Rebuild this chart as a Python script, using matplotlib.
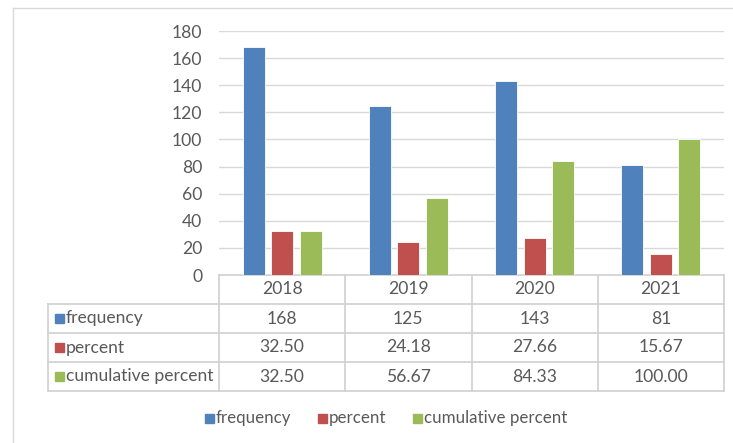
import numpy as np
import matplotlib
matplotlib.use("Agg")
import matplotlib.pyplot as plt
from matplotlib.patches import Rectangle

years = ["2018", "2019", "2020", "2021"]
series_names = ["frequency", "percent", "cumulative percent"]
frequency = [168, 125, 143, 81]
percent = [32.50, 24.18, 27.66, 15.67]
cumulative = [32.50, 56.67, 84.33, 100.00]
yticks = [0, 20, 40, 60, 80, 100, 120, 140, 160, 180]

colors = ["#4F81BD", "#C0504D", "#9BBB59"]
grid_c = "#D9D9D9"
txt_c = "#595959"
plt.rcParams["font.family"] = ["Lato", "DejaVu Sans"]
fs = 12.6

W, H = 733, 443
fig = plt.figure(figsize=(W / 100, H / 100), dpi=100)

# pixel-space helper axes for frame, table and legend
lay = fig.add_axes([0, 0, 1, 1])
lay.set_xlim(0, W)
lay.set_ylim(H, 0)
lay.axis("off")

# outer chart frame
lay.plot([13, 13], [8, H], color=grid_c, lw=1)
lay.plot([13, W], [8, 8], color=grid_c, lw=1)

# plot area
x0, x1, ytop, ybot = 219, 724, 31, 275
ax = fig.add_axes([x0 / W, 1 - ybot / H, (x1 - x0) / W, (ybot - ytop) / H])
x = np.arange(len(years))
off = 0.226
bw = 0.174
for i, vals in enumerate([frequency, percent, cumulative]):
    ax.bar(x + (i - 1) * off, vals, bw, color=colors[i], edgecolor="white",
           linewidth=0.6, zorder=3)
ax.set_xlim(-0.5, len(years) - 0.5)
ax.set_ylim(0, 180)
ax.set_yticks(yticks)
ax.set_xticks([])
ax.yaxis.grid(True, color=grid_c, lw=1)
ax.set_axisbelow(True)
for s in ax.spines.values():
    s.set_visible(False)
ax.tick_params(axis="y", length=0, pad=12, labelsize=fs, labelcolor=txt_c)
ax.patch.set_alpha(0)

# data table
tl = 48
row_h = 29
col_w = (x1 - x0) / len(years)
rows = [frequency, [f"{v:.2f}" for v in percent], [f"{v:.2f}" for v in cumulative]]
tc = "#D0D0D0"
# horizontal lines
lay.plot([x0, x1], [ybot, ybot], color=tc, lw=1.2)
for r in range(1, 5):
    lay.plot([tl, x1], [ybot + r * row_h] * 2, color=tc, lw=1.2)
# vertical lines
lay.plot([tl, tl], [ybot + row_h, ybot + 4 * row_h], color=tc, lw=1.2)
for c in range(len(years) + 1):
    xc = x0 + c * col_w
    lay.plot([xc, xc], [ybot, ybot + 4 * row_h], color=tc, lw=1.2)
for c, yr in enumerate(years):
    lay.text(x0 + (c + 0.5) * col_w, ybot + 0.5 * row_h, yr, ha="center",
             va="center", fontsize=fs, color=txt_c)
for r, vals in enumerate(rows):
    yc = ybot + (r + 1.5) * row_h
    lay.add_patch(Rectangle((55, yc - 4.5), 9, 9, color=colors[r]))
    lay.text(66, yc, series_names[r], ha="left", va="center", fontsize=fs,
             color=txt_c)
    for c, v in enumerate(vals):
        lay.text(x0 + (c + 0.5) * col_w, yc, str(v), ha="center", va="center",
                 fontsize=fs, color=txt_c)

# legend
leg_x = [205, 318, 413]
for i, name in enumerate(series_names):
    lay.add_patch(Rectangle((leg_x[i], 413.5), 9, 9, color=colors[i]))
    lay.text(leg_x[i] + 11, 418, name, ha="left", va="center", fontsize=12.2,
             color=txt_c)

fig.savefig("out.png", dpi=100)
